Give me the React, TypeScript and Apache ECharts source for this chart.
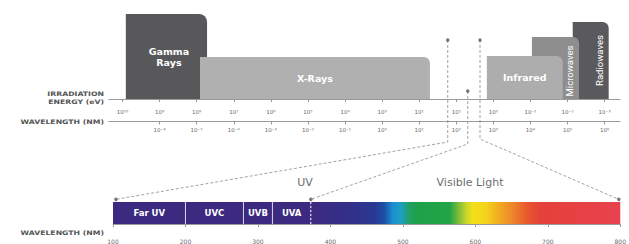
import React, { useEffect, useRef } from "react";
import * as echarts from "echarts";

// ---- data ----
const energyExponents = [10, 9, 8, 7, 6, 5, 4, 3, 2, 1, 0, -1, -2, -3];
const wavelengthExponents = [-6, -5, -4, -3, -2, -1, 0, 1, 2, 3, 4, 5, 6];
const bandNames = ["Gamma\nRays", "X-Rays", "Radiowaves", "Microwaves", "Infrared"];
const bandFrom = [9.91, 7.91, -2.14, -1.04, 0.175]; // energy exponent (high edge)
const bandTo = [7.72, 1.71, -3.11, -2.31, -1.87]; // energy exponent (low edge)
const bandHeight = [85, 42, 77, 62, 43];
const uvNames = ["Far UV", "UVC", "UVB", "UVA"];
const uvFrom = [100, 200, 280, 320];
const uvTo = [200, 280, 320, 373];
const visibleRange = [373, 800];
const spectrumNm = [373, 430, 462, 474, 486, 497, 508, 518, 565, 578, 588, 597, 615, 632, 652, 672, 690, 800];
const spectrumColors = ["#3b2a80", "#33308a", "#283a94", "#1d4ea6", "#1b8fd0", "#1e9fc4", "#22a068", "#1ea04a", "#22a545", "#86bd38", "#cdd62a", "#f4df1b", "#f4d21c", "#f2ac22", "#ee842b", "#e8572b", "#e4413a", "#e8424f"];
const nmTicks = [100, 200, 300, 400, 500, 600, 700, 800];
const markerEnergy = [1.23, 0.69, 0.36];
const markerLevel = [59, 8, 59];
const markerNm = [104, 373, 798];

// ---- styles ----
const bandStyles = [
  { color: "#58585a", r: 8, dx: 2.5, dy: 0, rot: 0, size: 9.5 },
  { color: "#b0b0b0", r: 6, dx: 0, dy: 0, rot: 0, size: 9.5 },
  { color: "#5a5a5c", r: 6, dx: 9, dy: 0, rot: Math.PI / 2, size: 9.5 },
  { color: "#8e8e8e", r: 6, dx: 14.5, dy: 3, rot: Math.PI / 2, size: 9.5 },
  { color: "#adadad", r: 6, dx: 0, dy: 0, rot: 0, size: 9.5 },
];
const bendY = [142, 144, 139];
const axisColor = "#9a9a9a";
const labelColor = "#6a6a6a";

const SUP = "⁰¹²³⁴⁵⁶⁷⁸⁹";
const sup = (n: number) =>
  String(Math.round(n))
    .split("")
    .map((c) => (c === "-" ? "⁻" : SUP[+c]))
    .join("");

export default function App() {
  const ref = useRef<HTMLDivElement>(null);
  useEffect(() => {
    if (!ref.current) return;
    const chart = echarts.init(ref.current, null, { renderer: "svg" });
    const gradStops = spectrumNm.map((nm, i) => ({
      offset: (nm - visibleRange[0]) / (visibleRange[1] - visibleRange[0]),
      color: spectrumColors[i],
    }));
    const axisCommon = {
      type: "value",
      position: "bottom",
      splitLine: { show: false },
      axisLine: { lineStyle: { color: axisColor, width: 1 } },
      axisTick: { length: 3, lineStyle: { color: axisColor } },
    };
    chart.setOption({
      animation: false,
      backgroundColor: "#ffffff",
      grid: [
        { left: 109, top: 0, width: 511, height: 99 },
        { left: 113, top: 202, width: 512, height: 25 },
      ],
      xAxis: [
        {
          ...axisCommon,
          gridIndex: 0,
          inverse: true,
          min: -3.415,
          max: 10.364,
          offset: 5,
          axisTick: { ...axisCommon.axisTick, customValues: energyExponents },
          axisLabel: {
            customValues: energyExponents,
            formatter: (v: number) => "10" + sup(v),
            fontSize: 5.5,
            color: labelColor,
            margin: 5,
            fontFamily: "DejaVu Sans",
          },
        },
        {
          ...axisCommon,
          gridIndex: 0,
          min: -7.364,
          max: 6.415,
          offset: 22.5,
          axisTick: { ...axisCommon.axisTick, customValues: wavelengthExponents },
          axisLabel: {
            customValues: wavelengthExponents,
            formatter: (v: number) => "10" + sup(v),
            fontSize: 5.5,
            color: labelColor,
            margin: 5,
            fontFamily: "DejaVu Sans",
          },
        },
        {
          ...axisCommon,
          gridIndex: 1,
          min: 100,
          max: 800,
          interval: 100,
          offset: 9,
          axisTick: { ...axisCommon.axisTick, customValues: nmTicks },
          axisLabel: {
            customValues: nmTicks,
            fontSize: 6,
            color: labelColor,
            margin: 5,
            fontFamily: "DejaVu Sans",
          },
        },
      ],
      yAxis: [
        { gridIndex: 0, type: "value", min: 0, max: 99, show: false },
        { gridIndex: 1, type: "value", min: 0, max: 1, show: false },
      ],
      series: [
        {
          type: "custom",
          xAxisIndex: 0,
          yAxisIndex: 0,
          data: bandNames.map((n, i) => [bandFrom[i], bandTo[i], bandHeight[i], i]),
          renderItem: (params: any, api: any) => {
            const i = api.value(3);
            const a = api.coord([api.value(0), api.value(2)]);
            const b = api.coord([api.value(1), 0]);
            const x = Math.min(a[0], b[0]);
            const w = Math.abs(b[0] - a[0]);
            const y = a[1];
            const h = b[1] - a[1];
            const st = bandStyles[i];
            return {
              type: "group",
              children: [
                {
                  type: "rect",
                  shape: { x, y, width: w, height: h, r: [0, st.r, 0, 0] },
                  style: { fill: st.color },
                },
                {
                  type: "text",
                  x: x + w / 2 + st.dx,
                  y: y + h / 2 + st.dy,
                  rotation: st.rot,
                  style: {
                    text: bandNames[i],
                    fill: "#ffffff",
                    fontSize: st.size,
                    fontWeight: st.rot ? "normal" : "bold",
                    fontFamily: st.rot ? "Roboto" : "DejaVu Sans",
                    lineHeight: 11,
                    align: "center",
                    verticalAlign: "middle",
                  },
                },
              ],
            };
          },
        },
        {
          type: "scatter",
          xAxisIndex: 0,
          yAxisIndex: 0,
          clip: false,
          symbolSize: 3.5,
          itemStyle: { color: "#555" },
          data: markerEnergy.map((e, i) => [e, markerLevel[i]]),
          z: 5,
        },
        {
          type: "custom",
          xAxisIndex: 2,
          yAxisIndex: 1,
          data: [
            ...uvNames.map((n, i) => [uvFrom[i], uvTo[i], i]),
            [visibleRange[0], visibleRange[1], -1],
          ],
          renderItem: (params: any, api: any) => {
            const i = api.value(2);
            const a = api.coord([api.value(0), 1]);
            const b = api.coord([api.value(1), 0]);
            const x = a[0];
            const w = b[0] - a[0];
            const y = a[1];
            const h = b[1] - a[1];
            if (i < 0) {
              return {
                type: "group",
                children: [
                  {
                    type: "rect",
                    shape: { x, y, width: w, height: h },
                    style: {
                      fill: { type: "linear", x: 0, y: 0, x2: 1, y2: 0, colorStops: gradStops },
                    },
                  },
                  {
                    type: "line",
                    shape: { x1: x, y1: y, x2: x, y2: y + h },
                    style: { stroke: "#ffffff", lineWidth: 1, lineDash: [2, 2] },
                  },
                ],
              };
            }
            const children: any[] = [
              { type: "rect", shape: { x, y, width: w, height: h }, style: { fill: "#3b2a7f" } },
              {
                type: "text",
                x: x + w / 2,
                y: y + h / 2,
                style: {
                  text: uvNames[i],
                  fill: "#ffffff",
                  fontSize: 8.5,
                  fontWeight: "bold",
                  fontFamily: "DejaVu Sans",
                  align: "center",
                  verticalAlign: "middle",
                },
              },
            ];
            if (i > 0) {
              children.push({
                type: "line",
                shape: { x1: x, y1: y, x2: x, y2: y + h },
                style: { stroke: "#d8d4ea", lineWidth: 1 },
              });
            }
            return { type: "group", children };
          },
        },
        {
          type: "scatter",
          xAxisIndex: 2,
          yAxisIndex: 1,
          clip: false,
          symbolSize: 3.5,
          itemStyle: { color: "#555" },
          data: markerNm.map((nm) => [nm, 1.12]),
          z: 5,
        },
      ],
    });

    const top = markerEnergy.map((e, i) => chart.convertToPixel({ seriesIndex: 1 }, [e, markerLevel[i]]) as number[]);
    const bottom = markerNm.map((nm) => chart.convertToPixel({ seriesIndex: 3 }, [nm, 1.12]) as number[]);
    const connectors = top.map((p, i) => ({
      type: "polyline",
      z: 1,
      shape: { points: [p, [p[0], bendY[i]], bottom[i]] },
      style: { stroke: "#8c8c8c", lineWidth: 0.8, lineDash: [3, 2], fill: null },
    }));
    const leftTitle = (text: string, y: number) => ({
      type: "text",
      x: 104,
      y,
      scaleX: 1.25,
      style: {
        text,
        fill: "#555555",
        fontSize: 6.2,
        fontWeight: "bold",
        fontFamily: "DejaVu Sans",
        align: "right",
        verticalAlign: "middle",
      },
    });
    chart.setOption({
      graphic: [
        ...connectors,
        leftTitle("IRRADIATION", 94),
        leftTitle("ENERGY (eV)", 101.5),
        leftTitle("WAVELENGTH (NM)", 122),
        leftTitle("WAVELENGTH (NM)", 233),
        {
          type: "text",
          x: 305,
          y: 182,
          style: { text: "UV", fill: "#6e6e6e", fontSize: 11, fontFamily: "DejaVu Sans", align: "center", verticalAlign: "middle" },
        },
        {
          type: "text",
          x: 470,
          y: 182,
          style: { text: "Visible Light", fill: "#6e6e6e", fontSize: 11, fontFamily: "DejaVu Sans", align: "center", verticalAlign: "middle" },
        },
      ],
    });
    return () => chart.dispose();
  }, []);
  return (
    <div
      ref={ref}
      style={{ position: "absolute", left: 0, top: 0, width: 629, height: 244, background: "#fff" }}
    />
  );
}
